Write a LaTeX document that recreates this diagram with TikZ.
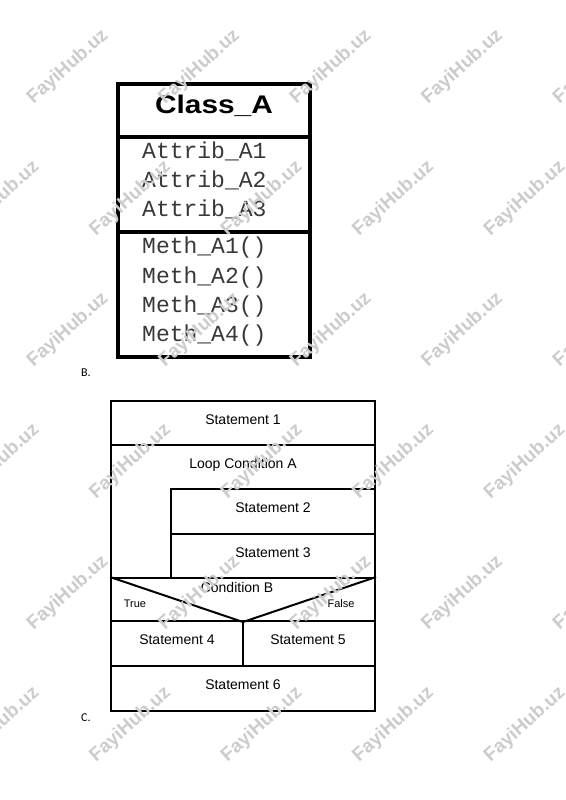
\documentclass[tikz,border=0pt]{standalone}
\usepackage{fontspec}
\setmainfont{Liberation Sans}
\newfontfamily\monof{Liberation Mono}
\newfontfamily\labf{Carlito}
\tikzset{
  wm/.style={text=black!20, font=\bfseries\fontsize{19}{19}\selectfont, rotate=42, inner sep=0},
  clsbox/.style={draw, line width=3.5pt, minimum width=192pt, inner sep=0},
  mono/.style={anchor=base west, font=\monof\fontsize{23}{23}\selectfont, text=black!78, inner sep=0},
  nsbox/.style={draw, line width=2pt, inner sep=0},
  nstext/.style={anchor=base, font=\fontsize{14}{14}\selectfont, inner sep=0},
  tftext/.style={anchor=base, font=\fontsize{11}{11}\selectfont, inner sep=0},
  lab/.style={anchor=base west, font=\labf\fontsize{12}{12}\selectfont, inner sep=0},
}
\begin{document}
\begin{tikzpicture}[x=1pt, y=-1pt]
\fill[white] (0,0) rectangle (565,800);
\useasboundingbox (0,0) rectangle (565,800);

% ---- Class diagram (B) ----
\node[clsbox, minimum height=53pt] (hdr) at (214,110.5) {};
\node[clsbox, minimum height=95pt] (attr) at (214,184.5) {};
\node[clsbox, minimum height=125pt] (meth) at (214,294.5) {};
\node[anchor=base, inner sep=0, font=\bfseries\fontsize{25.5}{25.5}\selectfont] (cname) at (214,113.5) {\scalebox{1.17}[1]{Class\_A}};
\node[mono] (a1) at (142,158) {Attrib\_A1};
\node[mono] (a2) at (142,187) {Attrib\_A2};
\node[mono] (a3) at (142,216.5) {Attrib\_A3};
\node[mono] (m1) at (142,253) {Meth\_A1()};
\node[mono] (m2) at (142,283) {Meth\_A2()};
\node[mono] (m3) at (142,312.5) {Meth\_A3()};
\node[mono] (m4) at (142,341.5) {Meth\_A4()};
\node[lab] (labB) at (81,376) {B.};

% ---- Nassi-Shneiderman diagram (C) ----
\node[nsbox, minimum width=264pt, minimum height=44pt] (s1) at (243,423) {};
\node[nsbox, minimum width=264pt, minimum height=133pt] (loop) at (243,511.5) {};
\node[nsbox, minimum width=204pt, minimum height=44.5pt] (s2) at (273,511.25) {};
\node[nsbox, minimum width=204pt, minimum height=44.5pt] (s3) at (273,555.75) {};
\node[nsbox, minimum width=264pt, minimum height=43pt] (cond) at (243,599.5) {};
\draw[line width=2pt, line join=bevel] (cond.north west) -- (cond.south) -- (cond.north east);
\node[nsbox, minimum width=132pt, minimum height=44.5pt] (s4) at (177,643.25) {};
\node[nsbox, minimum width=132pt, minimum height=44.5pt] (s5) at (309,643.25) {};
\node[nsbox, minimum width=264pt, minimum height=45.5pt] (s6) at (243,688.25) {};

\node[nstext] (t1) at (243,424) {Statement 1};
\node[nstext] (tl) at (243,468) {Loop Condition A};
\node[nstext] (t2) at (273,512) {Statement 2};
\node[nstext] (t3) at (273,557) {Statement 3};
\node[nstext] (tc) at (237,592) {Condition B};
\node[tftext] (ttrue) at (135,607) {True};
\node[tftext] (tfalse) at (341,607) {False};
\node[nstext] (t4) at (177,644) {Statement 4};
\node[nstext] (t5) at (308,644) {Statement 5};
\node[nstext] (t6) at (243,689) {Statement 6};
\node[lab] (labC) at (81,721) {C.};

% ---- watermarks ----
\foreach \j in {0,2,4} {
  \foreach \k in {0,1,2,3,4} {
    \node[wm] at ({68+131.5*\k},{67+131.5*\j}) {FayiHub.uz};
  }
}
\foreach \j in {1,3,5} {
  \foreach \k in {0,1,2,3,4} {
    \node[wm] at ({525-131.5*\k},{67+131.5*\j}) {FayiHub.uz};
  }
}
\end{tikzpicture}
\end{document}
